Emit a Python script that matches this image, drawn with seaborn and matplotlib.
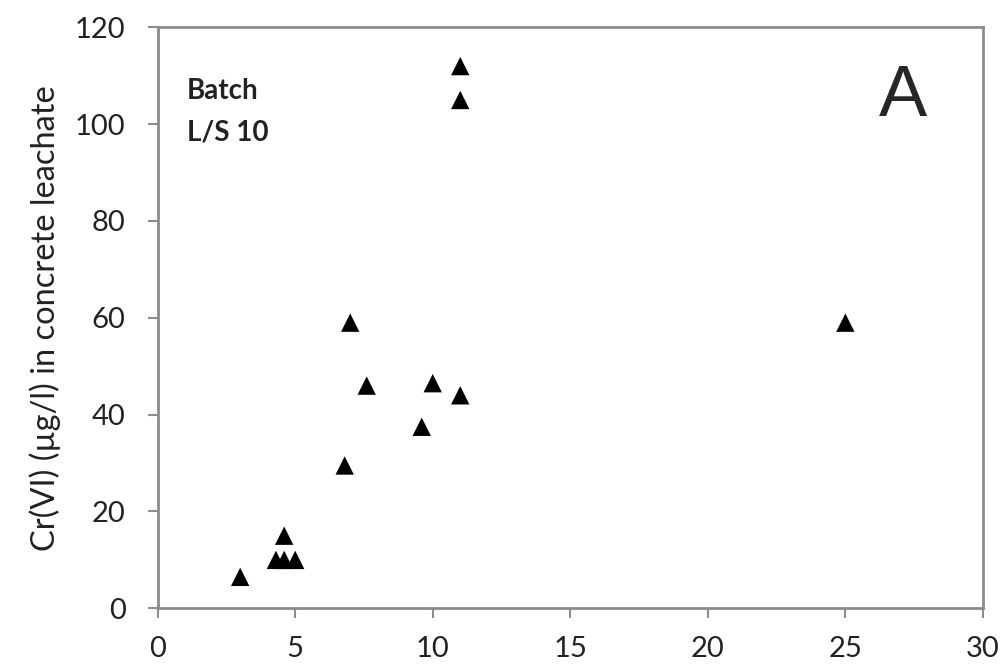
import matplotlib
matplotlib.use('Agg')
import matplotlib.pyplot as plt
import seaborn as sns
import pandas as pd

# ── Data ──────────────────────────────────────────────
x_vals = [3.0, 4.3, 4.6, 5.0, 4.6, 6.8, 7.0, 7.6, 9.6, 10.0, 11.0, 11.0, 11.0, 25.0]
cr_vi = [6.5, 10, 10, 10, 15, 29.5, 59, 46, 37.5, 46.5, 44, 105, 112, 59]
x_ticks = [0, 5, 10, 15, 20, 25, 30]
y_ticks = [0, 20, 40, 60, 80, 100, 120]

df = pd.DataFrame({'x': x_vals, 'cr': cr_vi})

# ── Style ─────────────────────────────────────────────
sns.set_style('white')
plt.rcParams['font.family'] = ['Lato', 'DejaVu Sans']
spine_col = '#8c8c8c'

fig = plt.figure(figsize=(10.04, 6.67), dpi=100)
ax = fig.add_axes([0.157, 0.088, 0.822, 0.871])

sns.scatterplot(data=df, x='x', y='cr', marker='^', s=175, color='black',
                edgecolor='none', ax=ax, legend=False)

ax.set_xlim(0, 30)
ax.set_ylim(0, 120)
ax.set_xticks(x_ticks)
ax.set_yticks(y_ticks)
ax.set_xlabel('')
ax.set_ylabel('Cr(VI) (µg/l) in concrete leachate', fontsize=23.5, labelpad=10,
              color='#222222')

for sp in ax.spines.values():
    sp.set_color(spine_col)
    sp.set_linewidth(2)

ax.tick_params(axis='both', which='major', direction='out', length=7, width=1.5,
               color=spine_col, labelsize=21, labelcolor='#222222')
ax.tick_params(axis='x', pad=13)
ax.tick_params(axis='y', pad=16)
ax.tick_params(bottom=True, left=True)

ax.text(1.05, 109.5, 'Batch\nL/S 10', fontsize=20, fontweight='bold', va='top',
        ha='left', linespacing=1.75, color='#222222')
ax.text(27.1, 105.5, 'A', fontsize=52, ha='center', va='center',
        family=['Liberation Sans', 'DejaVu Sans'])

fig.savefig('out.png', dpi=100)
